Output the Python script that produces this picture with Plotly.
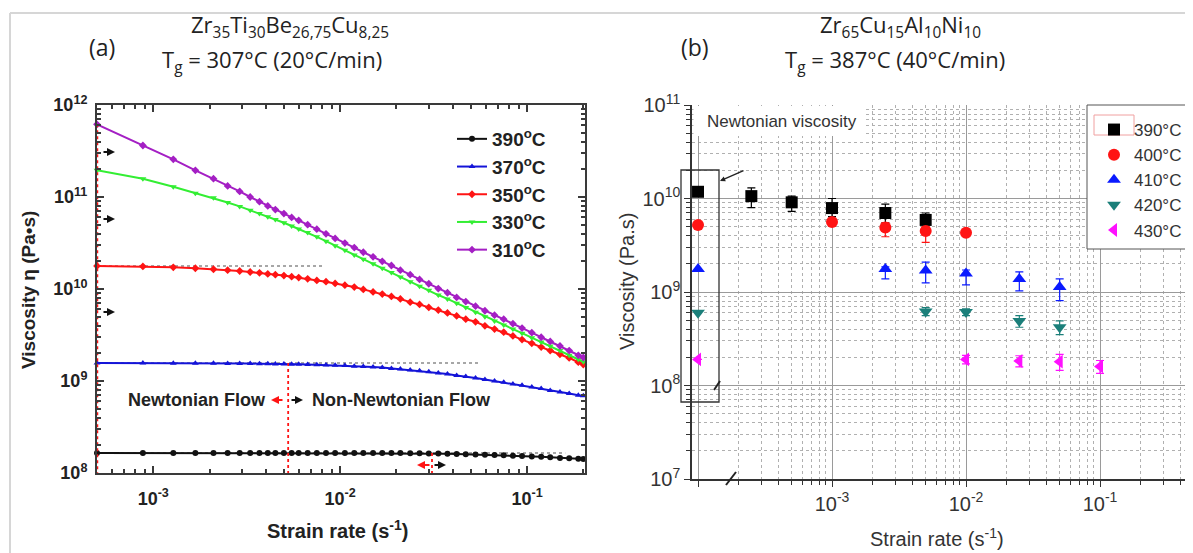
import math
import plotly.graph_objects as go

W, H = 1193, 553
OFF = 8  # the page body adds an 8px margin around the figure

# ---------------- Panel (a) data : Zr35Ti30Be26.75Cu8.25 ----------------
rate_a = [5.0e-4, 8.8e-4, 1.28e-3, 1.68e-3, 2.1e-3, 2.5e-3, 2.9e-3, 3.3e-3, 3.7e-3, 4.1e-3,
          4.5e-3, 5.0e-3, 5.5e-3, 6.0e-3, 6.7e-3, 7.5e-3, 8.4e-3, 9.4e-3, 1.06e-2, 1.19e-2,
          1.33e-2, 1.5e-2, 1.68e-2, 1.88e-2, 2.1e-2, 2.37e-2, 2.66e-2, 2.98e-2, 3.35e-2, 3.75e-2,
          4.2e-2, 4.7e-2, 5.3e-2, 5.95e-2, 6.7e-2, 7.5e-2, 8.4e-2, 9.4e-2, 0.106, 0.119,
          0.133, 0.15, 0.168, 0.188, 0.2]

eta_390 = [1.65e8, 1.65e8, 1.65e8, 1.65e8, 1.65e8, 1.65e8, 1.65e8, 1.65e8, 1.65e8, 1.65e8,
           1.65e8, 1.65e8, 1.65e8, 1.65e8, 1.65e8, 1.65e8, 1.65e8, 1.65e8, 1.65e8, 1.65e8,
           1.65e8, 1.65e8, 1.65e8, 1.65e8, 1.65e8, 1.64e8, 1.64e8, 1.63e8, 1.63e8, 1.62e8,
           1.61e8, 1.60e8, 1.59e8, 1.58e8, 1.57e8, 1.56e8, 1.54e8, 1.53e8, 1.51e8, 1.50e8,
           1.48e8, 1.46e8, 1.45e8, 1.43e8, 1.42e8]

eta_370 = [1.57e9, 1.57e9, 1.56e9, 1.56e9, 1.56e9, 1.55e9, 1.55e9, 1.55e9, 1.54e9, 1.54e9,
           1.53e9, 1.53e9, 1.52e9, 1.52e9, 1.51e9, 1.50e9, 1.49e9, 1.48e9, 1.47e9, 1.45e9,
           1.44e9, 1.42e9, 1.40e9, 1.37e9, 1.35e9, 1.32e9, 1.29e9, 1.26e9, 1.22e9, 1.19e9,
           1.15e9, 1.12e9, 1.08e9, 1.04e9, 1.00e9, 0.97e9, 0.93e9, 0.90e9, 0.86e9, 0.83e9,
           0.79e9, 0.76e9, 0.73e9, 0.70e9, 0.69e9]

eta_350 = [1.78e10, 1.76e10, 1.72e10, 1.68e10, 1.64e10, 1.60e10, 1.57e10, 1.53e10, 1.50e10, 1.46e10,
           1.43e10, 1.40e10, 1.36e10, 1.33e10, 1.29e10, 1.24e10, 1.20e10, 1.15e10, 1.10e10, 1.05e10,
           9.9e9, 9.3e9, 8.8e9, 8.3e9, 7.8e9, 7.2e9, 6.8e9, 6.3e9, 5.9e9, 5.5e9,
           5.1e9, 4.7e9, 4.4e9, 3.98e9, 3.67e9, 3.39e9, 3.09e9, 2.82e9, 2.57e9, 2.34e9,
           2.14e9, 1.95e9, 1.78e9, 1.60e9, 1.51e9]

eta_330 = [1.95e11, 1.58e11, 1.29e11, 1.10e11, 9.8e10, 8.7e10, 7.9e10, 7.2e10, 6.6e10, 6.1e10,
           5.7e10, 5.25e10, 4.84e10, 4.5e10, 4.1e10, 3.69e10, 3.31e10, 2.95e10, 2.63e10, 2.34e10,
           2.11e10, 1.88e10, 1.68e10, 1.51e10, 1.35e10, 1.20e10, 1.07e10, 9.7e9, 8.6e9, 7.8e9,
           7.0e9, 6.3e9, 5.6e9, 5.0e9, 4.5e9, 4.07e9, 3.67e9, 3.31e9, 2.95e9, 2.66e9,
           2.40e9, 2.14e9, 1.91e9, 1.72e9, 1.62e9]

eta_310 = [6.17e11, 3.63e11, 2.57e11, 1.95e11, 1.58e11, 1.32e11, 1.15e11, 1.00e11, 8.9e10, 8.0e10,
           7.3e10, 6.6e10, 6.0e10, 5.56e10, 5.0e10, 4.47e10, 3.98e10, 3.55e10, 3.16e10, 2.82e10,
           2.51e10, 2.24e10, 2.00e10, 1.80e10, 1.60e10, 1.43e10, 1.27e10, 1.14e10, 1.01e10, 9.1e9,
           8.1e9, 7.3e9, 6.5e9, 5.8e9, 5.2e9, 4.7e9, 4.2e9, 3.76e9, 3.35e9, 2.99e9,
           2.69e9, 2.40e9, 2.14e9, 1.90e9, 1.80e9]

labels_a = ["390<sup>o</sup>C", "370<sup>o</sup>C", "350<sup>o</sup>C", "330<sup>o</sup>C", "310<sup>o</sup>C"]
# strain rates at which the Newtonian plateau ends (dotted markers)
newtonian_end_370 = 5.27e-3
newtonian_end_390 = 3.1e-2
plateau_end_350 = 8.0e-3
plateau_end_370 = 5.6e-2
plateau_end_390 = 1.6e-1

# ---------------- Panel (b) data : Zr65Cu15Al10Ni10 ----------------
rate_b390 = [1e-4, 2.5e-4, 5e-4, 1e-3, 2.5e-3, 5e-3]
eta_b390 = [1.18e10, 1.06e10, 9.1e9, 7.9e9, 7.0e9, 5.9e9]
errp_b390 = [0, 2.4e9, 1.5e9, 2.1e9, 1.7e9, 1.1e9]
errm_b390 = [0, 2.6e9, 1.8e9, 1.5e9, 1.5e9, 1.2e9]

rate_b400 = [1e-4, 1e-3, 2.5e-3, 5e-3, 1e-2]
eta_b400 = [5.2e9, 5.6e9, 4.9e9, 4.5e9, 4.3e9]
errp_b400 = [0.3e9, 0.4e9, 0.6e9, 0.5e9, 0.2e9]
errm_b400 = [0.3e9, 0.4e9, 1.0e9, 1.1e9, 0.2e9]

rate_b410 = [1e-4, 2.5e-3, 5e-3, 1e-2, 2.5e-2, 5e-2]
eta_b410 = [1.76e9, 1.76e9, 1.70e9, 1.58e9, 1.38e9, 1.13e9]
errp_b410 = [0, 0.1e9, 0.39e9, 0.14e9, 0.26e9, 0.25e9]
errm_b410 = [0, 0.38e9, 0.45e9, 0.39e9, 0.35e9, 0.32e9]

rate_b420 = [1e-4, 5e-3, 1e-2, 2.5e-2, 5e-2]
eta_b420 = [6.0e8, 6.2e8, 6.1e8, 4.9e8, 4.2e8]
err_b420 = [0, 0.6e8, 0.5e8, 0.7e8, 0.7e8]

rate_b430 = [1e-4, 1e-2, 2.5e-2, 5e-2, 1e-1]
eta_b430 = [1.9e8, 1.9e8, 1.83e8, 1.8e8, 1.6e8]
err_b430 = [0, 0.2e8, 0.25e8, 0.35e8, 0.25e8]

labels_b = ["390°C", "400°C", "410°C", "420°C", "430°C"]

# ---------------- helpers (screen pixel -> paper fraction) ----------------
def px(x):
    return (x - OFF) / W

def py(y):
    return 1 - (y - OFF) / H

BOLD = "Liberation Sans"
NORM = "Liberation Sans"

fig = go.Figure()

# ---- panel (a) traces ----
colors_a = ["#111111", "#1414d8", "#ff1414", "#33ee33", "#a41fc4"]
symbols_a = ["circle", "triangle-up", "diamond", "triangle-down", "diamond"]
series_a = [eta_390, eta_370, eta_350, eta_330, eta_310]

# dotted guide lines (Newtonian plateaus)
for level, xend in [(eta_350[0], plateau_end_350), (eta_370[0], plateau_end_370), (eta_390[0], plateau_end_390)]:
    fig.add_trace(go.Scatter(x=[rate_a[0], xend], y=[level, level], mode="lines",
                             line=dict(color="#8a8a8a", width=1.5, dash="dot"),
                             showlegend=False, hoverinfo="skip", xaxis="x", yaxis="y"))

for ys, c, s, name in zip(series_a, colors_a, symbols_a, labels_a):
    fig.add_trace(go.Scatter(x=rate_a, y=ys, mode="lines+markers", name=name,
                             line=dict(color=c, width=2),
                             marker=dict(symbol=s, size=6, color=c),
                             cliponaxis=False, legend="legend", xaxis="x", yaxis="y"))

# red dotted vertical lines
fig.add_trace(go.Scatter(x=[rate_a[0], rate_a[0]], y=[eta_310[0], 1e8], mode="lines",
                         line=dict(color="#ff1414", width=2.5, dash="dot"),
                         showlegend=False, hoverinfo="skip", cliponaxis=False, xaxis="x", yaxis="y"))
fig.add_trace(go.Scatter(x=[newtonian_end_370, newtonian_end_370], y=[eta_370[0], 1e8], mode="lines",
                         line=dict(color="#ff1414", width=1.8, dash="dot"),
                         showlegend=False, hoverinfo="skip", xaxis="x", yaxis="y"))
fig.add_trace(go.Scatter(x=[newtonian_end_390, newtonian_end_390], y=[eta_390[0], 1e8], mode="lines",
                         line=dict(color="#ff1414", width=1.8, dash="dot"),
                         showlegend=False, hoverinfo="skip", xaxis="x", yaxis="y"))

# ---- panel (b) traces ----
colors_b = ["#000000", "#ff1414", "#0a1aff", "#1b7f7a", "#ff10ff"]
symbols_b = ["square", "circle", "triangle-up", "triangle-down", "triangle-left"]
rates_b = [rate_b390, rate_b400, rate_b410, rate_b420, rate_b430]
etas_b = [eta_b390, eta_b400, eta_b410, eta_b420, eta_b430]
errp_b = [errp_b390, errp_b400, errp_b410, err_b420, err_b430]
errm_b = [errm_b390, errm_b400, errm_b410, err_b420, err_b430]

for xs, ys, ep, em, c, s, name in zip(rates_b, etas_b, errp_b, errm_b, colors_b, symbols_b, labels_b):
    fig.add_trace(go.Scatter(x=xs, y=ys, mode="markers", name=name,
                             marker=dict(symbol=s, size=12, color=c),
                             error_y=dict(type="data", array=ep, arrayminus=em, color=c,
                                          thickness=1.2, width=4),
                             cliponaxis=False, legend="legend2", xaxis="x2", yaxis="y2"))

# ---- axes ----
dom_a_x = [px(97), px(585)]
dom_a_y = [py(473), py(105)]
dom_b_x = [px(692), min(1.0, px(1193))]
dom_b_y = [py(479), py(105)]

axis_line = dict(showline=True, linecolor="#3a3a3a", linewidth=2)

def minor_vals(lo, hi):
    vals = []
    for e in range(lo, hi):
        for m in range(2, 10):
            vals.append(m * 10 ** e)
    return vals

# right edge of panel (b) in log units (1100px = 1e-1, 134 px per decade)
xb_right = -1 + (1193 - 1100) / 134.0

fig.update_layout(
    xaxis=dict(domain=dom_a_x, type="log", range=[math.log10(5e-4), -0.69], anchor="y",
               tickvals=[1e-3, 1e-2, 1e-1],
               ticktext=["10<sup>-3</sup>", "10<sup>-2</sup>", "10<sup>-1</sup>"],
               ticks="inside", ticklen=7, tickwidth=1.5, tickcolor="#3a3a3a", mirror="ticks",
               showgrid=False, zeroline=False, ticklabelstandoff=8,
               tickfont=dict(family=BOLD, size=18, color="#222", weight="bold"),
               minor=dict(tickvals=minor_vals(-4, 0), ticks="inside", ticklen=4, tickcolor="#3a3a3a"),
               **axis_line),
    yaxis=dict(domain=dom_a_y, type="log", range=[8, 12], anchor="x",
               tickvals=[1e8, 1e9, 1e10, 1e11, 1e12],
               ticktext=["10<sup>8</sup>", "10<sup>9</sup>", "10<sup>10</sup>", "10<sup>11</sup>", "10<sup>12</sup>"],
               ticks="inside", ticklen=7, tickwidth=1.5, tickcolor="#3a3a3a", mirror="ticks",
               showgrid=False, zeroline=False, ticklabelstandoff=4,
               tickfont=dict(family=BOLD, size=18, color="#222", weight="bold"),
               minor=dict(tickvals=minor_vals(8, 12), ticks="inside", ticklen=4, tickcolor="#3a3a3a"),
               **axis_line),
    xaxis2=dict(domain=dom_b_x, type="log", range=[-4.045, xb_right], anchor="y2",
                tickvals=[1e-4, 1e-3, 1e-2, 1e-1],
                ticktext=["", "10<sup>-3</sup>", "10<sup>-2</sup>", "10<sup>-1</sup>"],
                ticks="outside", ticklen=6, tickcolor="#333",
                showline=True, linecolor="#333", linewidth=1.5,
                showgrid=True, gridcolor="#9a9a9a", gridwidth=1, zeroline=False,
                tickfont=dict(family=NORM, size=20, color="#333"),
                minor=dict(tickvals=minor_vals(-5, 0), ticks="outside", ticklen=4, tickcolor="#333",
                           showgrid=True, gridcolor="#b0b0b0", griddash="dot", gridwidth=1)),
    yaxis2=dict(domain=dom_b_y, type="log", range=[7, 11], anchor="x2",
                tickvals=[1e7, 1e8, 1e9, 1e10, 1e11],
                ticktext=["10<sup>7</sup>", "10<sup>8</sup>", "10<sup>9</sup>", "10<sup>10</sup>", "10<sup>11</sup>"],
                ticks="outside", ticklen=6, tickcolor="#333",
                showline=True, linecolor="#333", linewidth=1.5,
                showgrid=True, gridcolor="#9a9a9a", gridwidth=1, zeroline=False,
                tickfont=dict(family=NORM, size=20, color="#333"),
                minor=dict(tickvals=minor_vals(7, 11), ticks="outside", ticklen=4, tickcolor="#333",
                           showgrid=True, gridcolor="#b0b0b0", griddash="dot", gridwidth=1)),
)

# ---- legends ----
fig.update_layout(
    legend=dict(x=px(452), y=py(120), xanchor="left", yanchor="top",
                bgcolor="rgba(0,0,0,0)", borderwidth=0, itemwidth=30,
                font=dict(family=BOLD, size=19, color="#222", weight="bold"),
                tracegroupgap=0),
    legend2=dict(x=px(1094), y=py(112), xanchor="left", yanchor="top",
                 bgcolor="rgba(0,0,0,0)", borderwidth=0, itemwidth=30,
                 font=dict(family=NORM, size=17, color="#333")),
)

# ---- shapes ----
shapes = [
    # outer frame lines
    dict(type="line", xref="paper", yref="paper", x0=px(10), x1=1, y0=py(13), y1=py(13),
         line=dict(color="#d6d6d6", width=2)),
    dict(type="line", xref="paper", yref="paper", x0=px(10), x1=px(10), y0=py(13), y1=0,
         line=dict(color="#d6d6d6", width=2)),
    # white box behind "Newtonian viscosity"
    dict(type="rect", xref="paper", yref="paper", x0=px(693.5), x1=px(866), y0=py(106), y1=py(136),
         fillcolor="white", line=dict(width=0), layer="above"),
    # legend box (b)
    dict(type="rect", xref="paper", yref="paper", x0=px(1087), x1=px(1205), y0=py(105), y1=py(249),
         fillcolor="white", line=dict(color="#555", width=1), layer="above"),
    dict(type="rect", xref="paper", yref="paper", x0=px(1094), x1=px(1134), y0=py(115), y1=py(135),
         line=dict(color="#f0a0a0", width=1), layer="above"),
    # black rectangle around Newtonian points
    dict(type="rect", xref="paper", yref="paper", x0=px(681), x1=px(719), y0=py(170), y1=py(402),
         line=dict(color="#333", width=1.3), layer="above"),
    # axis-break marks
    dict(type="line", xref="paper", yref="paper", x0=px(726), x1=px(736), y0=py(485), y1=py(472),
         line=dict(color="#222", width=2), layer="above"),
    dict(type="line", xref="paper", yref="paper", x0=px(714), x1=px(720), y0=py(390), y1=py(381),
         line=dict(color="#222", width=2), layer="above"),
]
fig.update_layout(shapes=shapes)

# ---- annotations ----
ann = []

def text(x, y, t, size, family=NORM, color="#222", weight="normal", angle=0, xanchor="center"):
    ann.append(dict(x=px(x), y=py(y), xref="paper", yref="paper", text=t, showarrow=False,
                    xanchor=xanchor, yanchor="middle", textangle=angle,
                    font=dict(family=family, size=size, color=color, weight=weight)))

def arrow(xh, y, xt, color):
    ann.append(dict(x=px(xh), y=py(y), xref="paper", yref="paper", text="", showarrow=True,
                    ax=xt - xh, ay=0, arrowhead=2, arrowsize=0.8, arrowwidth=2, arrowcolor=color))

TF = "Open Sans"
text(102, 47, "(a)", 23, TF)
text(290, 26, "Zr<sub>35</sub>Ti<sub>30</sub>Be<sub>26,75</sub>Cu<sub>8,25</sub>", 22, TF)
text(272, 61, "T<sub>g</sub> = 307°C (20°C/min)", 22, TF)
text(695, 47, "(b)", 23, TF)
text(900, 26, "Zr<sub>65</sub>Cu<sub>15</sub>Al<sub>10</sub>Ni<sub>10</sub>", 22, TF)
text(895, 61, "T<sub>g</sub> = 387°C (40°C/min)", 22, TF)

text(28, 290, "Viscosity η (Pa•s)", 19, BOLD, "#222", "bold", -90)
text(337, 529, "Strain rate (s<sup>-1</sup>)", 20, BOLD, "#222", "bold")
text(627, 282, "Viscosity (Pa.s)", 20, NORM, "#333", "normal", -90)
text(937, 537, "Strain rate (s<sup>-1</sup>)", 20, NORM, "#333")

text(197, 400, "Newtonian Flow", 18, BOLD, "#222", "bold")
text(401, 400, "Non-Newtonian Flow", 18, BOLD, "#222", "bold")
text(782, 121, "Newtonian viscosity", 17, NORM, "#333")

arrow(115, 152, 102, "#111")
arrow(115, 219, 102, "#111")
arrow(115, 312, 102, "#111")
arrow(271, 400, 284, "#ff1414")
arrow(303, 400, 290, "#111")
arrow(417, 465, 431, "#ff1414")
arrow(446, 465, 433, "#111")
arrow(720, 181, 745, "#222")
ann[-1]["ay"] = -11
ann[-1]["arrowwidth"] = 1.3

fig.update_layout(annotations=ann)

fig.update_layout(width=W, height=H, autosize=False,
                  margin=dict(l=0, r=0, t=0, b=0, pad=0, autoexpand=False),
                  paper_bgcolor="white", plot_bgcolor="white",
                  showlegend=True)

fig.write_html("out.html")
